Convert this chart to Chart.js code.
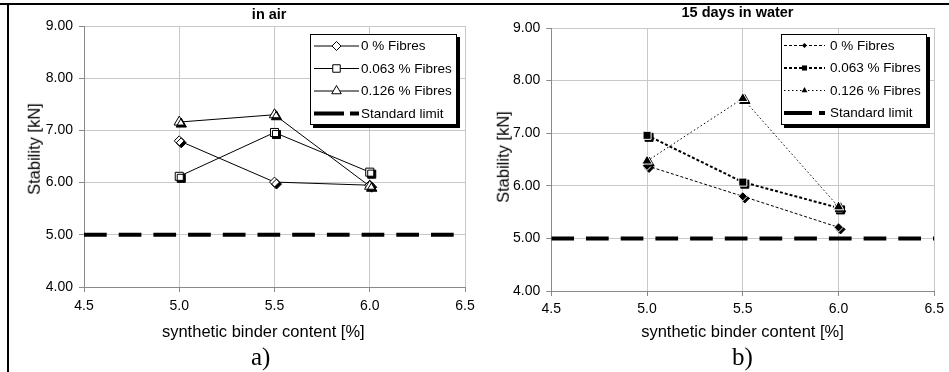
<!DOCTYPE html>
<html>
<head>
<meta charset="utf-8">
<script src="https://cdn.jsdelivr.net/npm/chart.js@4.4.1/dist/chart.umd.min.js"></script>
<style>
html,body{margin:0;padding:0;background:#fff;}
#wrap{position:relative;width:949px;height:372px;overflow:hidden;background:#fff;}
canvas{position:absolute;top:0;}
.txt{position:absolute;font-family:"Liberation Sans",Arial,Helvetica,sans-serif;color:#000;white-space:nowrap;z-index:5;}
.ttl{font-weight:bold;font-size:14.5px;line-height:14.5px;transform:translateX(-50%);}
.xt{font-size:16.5px;line-height:16.5px;transform:translateX(-50%);}
.yt{font-size:16.5px;line-height:16.5px;transform:translate(-50%,-50%) rotate(-90deg);}
.lab{position:absolute;font-family:"Liberation Serif","Times New Roman",serif;font-size:25px;line-height:25px;color:#000;white-space:nowrap;transform:translateX(-50%);z-index:5;}
.bd{position:absolute;background:#000;z-index:6;}
</style>
</head>
<body>
<div id="wrap">
  <canvas id="chartA" width="475" height="372" style="left:0px"></canvas>
  <canvas id="chartB" width="474" height="372" style="left:475px"></canvas>

  <div class="txt ttl" style="left:269.2px;top:6.7px">in air</div>
  <div class="txt ttl" style="left:737.5px;top:5.2px">15 days in water</div>
  <div class="txt xt" style="left:263.3px;top:322.7px">synthetic binder content [%]</div>
  <div class="txt xt" style="left:742.5px;top:322.7px">synthetic binder content [%]</div>
  <div class="txt yt" style="left:34.1px;top:149.2px">Stability [kN]</div>
  <div class="txt yt" style="left:503.1px;top:156.7px">Stability [kN]</div>
  <div class="lab" style="left:260.7px;top:344px">a)</div>
  <div class="lab" style="left:742.5px;top:344px">b)</div>

  <div class="bd" style="left:0;top:3px;width:949px;height:2px"></div>
  <div class="bd" style="left:7px;top:3px;width:2px;height:369px"></div>
</div>
<script>
// ---------------- data ----------------
const xValues = [5.0, 5.5, 6.0];
const seriesLabels = ['0 % Fibres', '0.063 % Fibres', '0.126 % Fibres', 'Standard limit'];

const airFibres0   = [6.80, 6.01, 5.95];
const airFibres063 = [6.12, 6.96, 6.20];
const airFibres126 = [7.16, 7.30, 5.93];

const waterFibres0   = [6.38, 5.80, 5.21];
const waterFibres063 = [6.96, 6.07, 5.58];
const waterFibres126 = [6.47, 7.66, 5.60];

const limitX = [4.5, 6.5];
const limitY = [5.0, 5.0];

const xTickValues = [4.5, 5.0, 5.5, 6.0, 6.5];
const yTickValues = [4, 5, 6, 7, 8, 9];

// ---------------- helpers ----------------
Chart.defaults.font.family = '"Liberation Sans", Arial, Helvetica, sans-serif';
Chart.defaults.color = '#000';
Chart.defaults.animation = false;

function pts(xs, ys) { return xs.map((x, k) => ({ x: x, y: ys[k] })); }

function drawMarker(c, style, x, y, r, fill, stroke, lw) {
  c.beginPath();
  if (style === 'rectRot') {
    c.moveTo(x, y - r); c.lineTo(x + r, y); c.lineTo(x, y + r); c.lineTo(x - r, y); c.closePath();
  } else if (style === 'rect') {
    const h = r * Math.SQRT1_2; c.rect(x - h, y - h, 2 * h, 2 * h);
  } else {
    const s = Math.sin(Math.PI / 3);
    c.moveTo(x, y - r); c.lineTo(x + r * s, y + r / 2); c.lineTo(x - r * s, y + r / 2); c.closePath();
  }
  c.fillStyle = fill; c.fill();
  if (lw > 0) { c.strokeStyle = stroke; c.lineWidth = lw; c.stroke(); }
}

const markerShadowPlugin = {
  id: 'markerShadow',
  beforeDatasetDraw(chart, args) {
    const ds = chart.data.datasets[args.index];
    if (ds.markerShadow) {
      const c = chart.ctx; c.save();
      c.shadowColor = '#000'; c.shadowOffsetX = 2; c.shadowOffsetY = 2; c.shadowBlur = 0;
    }
  },
  afterDatasetDraw(chart, args) {
    const ds = chart.data.datasets[args.index];
    if (ds.markerShadow) chart.ctx.restore();
  }
};

const boxLegendPlugin = {
  id: 'boxLegend',
  afterDraw(chart) {
    const L = chart.options.plugins.boxLegend;
    if (!L) return;
    const c = chart.ctx;
    c.save();
    c.fillStyle = '#000';
    c.fillRect(L.x + 3, L.y + 3, L.w, L.h);
    c.fillStyle = '#fff';
    c.fillRect(L.x, L.y, L.w, L.h);
    c.strokeStyle = '#000'; c.lineWidth = 1;
    c.strokeRect(L.x + 0.5, L.y + 0.5, L.w - 1, L.h - 1);
    L.items.forEach((it, i) => {
      const y = L.rowY[i];
      c.beginPath();
      c.setLineDash(it.dash);
      c.lineWidth = it.lineWidth;
      c.strokeStyle = '#000';
      c.moveTo(L.sx1, y); c.lineTo(L.sx2, y); c.stroke();
      c.setLineDash([]);
      if (it.pointStyle) {
        drawMarker(c, it.pointStyle, (L.sx1 + L.sx2) / 2, y, it.r, it.fill, '#000', it.borderW);
      }
      c.fillStyle = '#000';
      c.font = '13.5px "Liberation Sans", Arial, sans-serif';
      c.textBaseline = 'middle';
      c.textAlign = 'left';
      c.fillText(it.label, L.tx, y + 0.5);
    });
    c.restore();
  }
};

function zeroPad(sc) { sc.paddingLeft = 0; sc.paddingRight = 0; sc.paddingTop = 0; sc.paddingBottom = 0; }

function buildPanel(id, cfg) {
  const datasets = [];
  cfg.series.forEach((s, i) => {
    datasets.push({
      label: s.label, data: pts(xValues, s.values), showLine: true,
      borderColor: '#000', borderWidth: s.lineWidth, borderDash: s.dash,
      pointRadius: 0, pointHoverRadius: 0, fill: false, tension: 0, order: 10 + i
    });
    datasets.push({
      label: s.label + ' (markers)', data: pts(xValues, s.values), showLine: false,
      pointStyle: s.pointStyle, pointRadius: s.r, pointHoverRadius: s.r,
      pointBackgroundColor: s.fill, pointBorderColor: s.stroke, pointBorderWidth: 1,
      order: 5 - i, markerShadow: true
    });
  });
  datasets.push({
    label: seriesLabels[3], data: pts(limitX, limitY), showLine: true,
    borderColor: '#000', borderWidth: 4, borderDash: [22.7, 12], borderCapStyle: 'butt',
    pointRadius: 0, pointHoverRadius: 0, fill: false, order: 0
  });

  const legendItems = cfg.series.map(s => ({
    label: s.label, dash: s.dash, lineWidth: s.lineWidth, pointStyle: s.pointStyle,
    r: s.legendR, fill: s.fill, borderW: s.legendBorder
  }));
  legendItems.push({ label: seriesLabels[3], dash: cfg.legendLimitDash, lineWidth: 4, pointStyle: null });

  return new Chart(document.getElementById(id), {
    type: 'scatter',
    data: { datasets: datasets },
    plugins: [markerShadowPlugin, boxLegendPlugin],
    options: {
      responsive: false,
      animation: false,
      events: [],
      layout: { padding: cfg.padding },
      plugins: {
        legend: { display: false },
        tooltip: { enabled: false },
        title: { display: false },
        boxLegend: Object.assign({ items: legendItems }, cfg.legend)
      },
      scales: {
        x: {
          type: 'linear', min: 4.5, max: 6.5,
          afterBuildTicks: sc => { sc.ticks = xTickValues.map(v => ({ value: v })); },
          afterFit: sc => { sc.height = cfg.xAxisH; zeroPad(sc); },
          ticks: { callback: v => Number(v).toFixed(1), font: { size: 14 }, color: '#000', padding: cfg.xPad, autoSkip: false, maxRotation: 0 },
          grid: { color: '#c8c8c8', tickColor: '#8a8a8a', tickLength: 5, lineWidth: 1 },
          border: { color: '#8a8a8a', width: 1 },
          title: { display: false }
        },
        y: {
          type: 'linear', min: 4, max: 9,
          afterBuildTicks: sc => { sc.ticks = yTickValues.map(v => ({ value: v })); },
          afterFit: sc => { sc.width = cfg.yAxisW; zeroPad(sc); },
          ticks: { callback: v => Number(v).toFixed(2), font: { size: 14 }, color: '#000', padding: 6 },
          grid: { color: '#c8c8c8', tickColor: '#8a8a8a', tickLength: 5, lineWidth: 1 },
          border: { color: '#8a8a8a', width: 1 },
          title: { display: false }
        }
      }
    }
  });
}

buildPanel('chartA', {
  padding: { left: 0, right: 10, top: 26, bottom: 0 },
  yAxisW: 84, xAxisH: 85, xPad: 6,
  series: [
    { label: seriesLabels[0], values: airFibres0,   pointStyle: 'rectRot',  r: 5,   fill: '#fff', stroke: '#000', dash: [], lineWidth: 1, legendR: 4.5, legendBorder: 1 },
    { label: seriesLabels[1], values: airFibres063, pointStyle: 'rect',     r: 5.7, fill: '#fff', stroke: '#000', dash: [], lineWidth: 1, legendR: 5.3, legendBorder: 1 },
    { label: seriesLabels[2], values: airFibres126, pointStyle: 'triangle', r: 6,   fill: '#fff', stroke: '#000', dash: [], lineWidth: 1, legendR: 5.5, legendBorder: 1 }
  ],
  legendLimitDash: [30, 6],
  legend: { x: 310, y: 34, w: 147, h: 91, sx1: 314, sx2: 359, tx: 361, rowY: [46, 68.5, 91, 113.5] }
});

buildPanel('chartB', {
  padding: { left: 0, right: 14.7, top: 28, bottom: 0 },
  yAxisW: 76.3, xAxisH: 81, xPad: 5,
  series: [
    { label: seriesLabels[0], values: waterFibres0,   pointStyle: 'rectRot',  r: 4.6, fill: '#000', stroke: '#fff', dash: [3, 2],   lineWidth: 1, legendR: 2.6, legendBorder: 0 },
    { label: seriesLabels[1], values: waterFibres063, pointStyle: 'rect',     r: 5.7, fill: '#000', stroke: '#fff', dash: [3, 2],   lineWidth: 2, legendR: 3.6, legendBorder: 0 },
    { label: seriesLabels[2], values: waterFibres126, pointStyle: 'triangle', r: 6,   fill: '#000', stroke: '#fff', dash: [1.5, 2.5], lineWidth: 1, legendR: 3.4, legendBorder: 0 }
  ],
  legendLimitDash: [28, 7],
  legend: { x: 306, y: 34, w: 146, h: 91, sx1: 309, sx2: 350, tx: 355, rowY: [45.5, 68, 90.5, 113] }
});
</script>
</body>
</html>
